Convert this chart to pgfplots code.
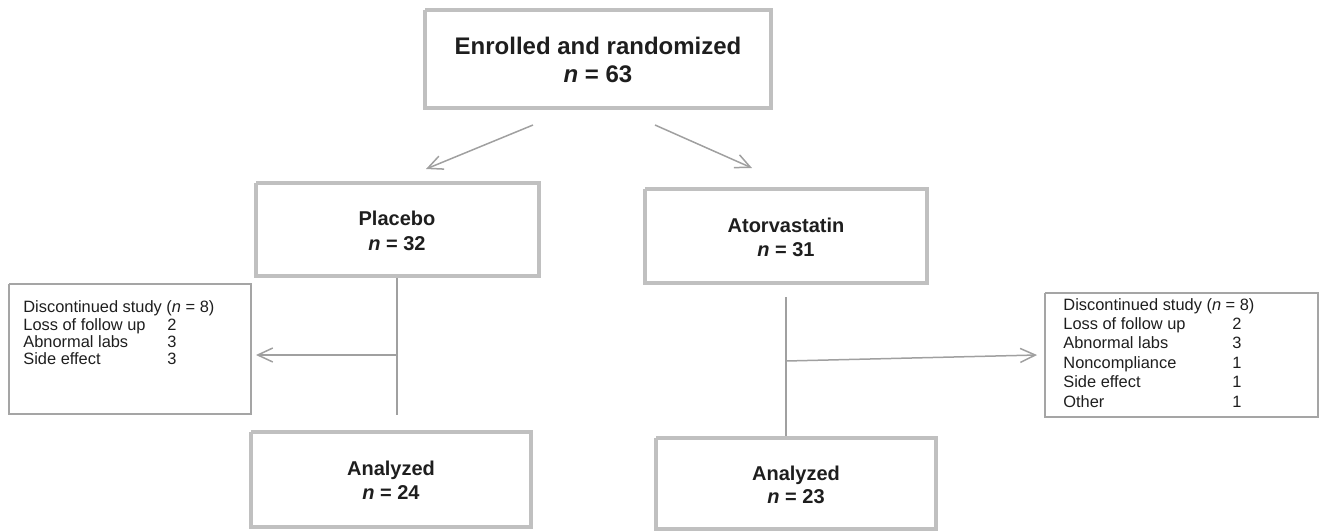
\documentclass[border=0pt]{standalone}
\usepackage{pgfplots}
\pgfplotsset{compat=1.18}
\usepackage{fontspec}
\setmainfont{Liberation Sans}
\usetikzlibrary{arrows.meta}
\definecolor{boxgray}{RGB}{192,192,192}
\definecolor{linegray}{RGB}{160,160,160}
\definecolor{thingray}{RGB}{165,165,165}
\definecolor{txt}{RGB}{30,30,30}
\begin{document}
\begin{tikzpicture}
\begin{axis}[width=663pt,height=265.5pt,scale only axis,
  xmin=0,xmax=1326,ymin=0,ymax=531,y dir=reverse,
  hide axis,clip=false,no markers]
% thick boxes
\addplot[boxgray,line width=2.2pt,line join=miter] coordinates {(425,10) (771,10) (771,108) (425,108) (425,10)};
\addplot[boxgray,line width=2.2pt,line join=miter] coordinates {(256,183) (539,183) (539,276) (256,276) (256,183)};
\addplot[boxgray,line width=2.2pt,line join=miter] coordinates {(645,189) (927,189) (927,283) (645,283) (645,189)};
\addplot[boxgray,line width=2.2pt,line join=miter] coordinates {(251,432) (531,432) (531,527) (251,527) (251,432)};
\addplot[boxgray,line width=2.2pt,line join=miter] coordinates {(656,438) (936,438) (936,529) (656,529) (656,438)};
% thin boxes
\addplot[thingray,line width=0.7pt] coordinates {(9,284) (251,284) (251,414) (9,414) (9,284)};
\addplot[thingray,line width=0.7pt] coordinates {(1045,293) (1318,293) (1318,417) (1045,417) (1045,293)};
% connectors
\addplot[linegray,line width=0.75pt,-{Straight Barb[length=7.5pt,width=7pt]}] coordinates {(533,125) (426,169)};
\addplot[linegray,line width=0.75pt,-{Straight Barb[length=7.5pt,width=7pt]}] coordinates {(655,125) (752,168)};
\addplot[linegray,line width=0.75pt] coordinates {(397,278) (397,415)};
\addplot[linegray,line width=0.75pt,-{Straight Barb[length=7.5pt,width=7pt]}] coordinates {(397,355) (256,355)};
\addplot[linegray,line width=0.75pt] coordinates {(786,297) (786,436)};
\addplot[linegray,line width=0.75pt,-{Straight Barb[length=7.5pt,width=7pt]}] coordinates {(786,361) (1037,355)};
% texts
\begin{scope}[every node/.style={text=txt,inner sep=0pt}]
\node[anchor=base,font=\fontsize{12}{14}\selectfont\bfseries] at (axis cs:598,54) {Enrolled and randomized};
\node[anchor=base,font=\fontsize{12}{14}\selectfont\bfseries] at (axis cs:598,82) {\textit{n} = 63};
\node[anchor=base,font=\fontsize{10}{12}\selectfont\bfseries] at (axis cs:397,225) {Placebo};
\node[anchor=base,font=\fontsize{10}{12}\selectfont\bfseries] at (axis cs:397,250) {\textit{n} = 32};
\node[anchor=base,font=\fontsize{10}{12}\selectfont\bfseries] at (axis cs:786,232) {Atorvastatin};
\node[anchor=base,font=\fontsize{10}{12}\selectfont\bfseries] at (axis cs:786,256) {\textit{n} = 31};
\node[anchor=base,font=\fontsize{10}{12}\selectfont\bfseries] at (axis cs:391,475) {Analyzed};
\node[anchor=base,font=\fontsize{10}{12}\selectfont\bfseries] at (axis cs:391,499) {\textit{n} = 24};
\node[anchor=base,font=\fontsize{10}{12}\selectfont\bfseries] at (axis cs:796,480) {Analyzed};
\node[anchor=base,font=\fontsize{10}{12}\selectfont\bfseries] at (axis cs:796,503) {\textit{n} = 23};
% left small box
\node[anchor=base west,font=\fontsize{8.2}{10}\selectfont] at (axis cs:23,312) {Discontinued study (\textit{n} = 8)};
\node[anchor=base west,font=\fontsize{8.2}{10}\selectfont] at (axis cs:23,330) {Loss of follow up};
\node[anchor=base west,font=\fontsize{8.2}{10}\selectfont] at (axis cs:23,347) {Abnormal labs};
\node[anchor=base west,font=\fontsize{8.2}{10}\selectfont] at (axis cs:23,364) {Side effect};
\node[anchor=base west,font=\fontsize{8.2}{10}\selectfont] at (axis cs:167,330) {2};
\node[anchor=base west,font=\fontsize{8.2}{10}\selectfont] at (axis cs:167,347) {3};
\node[anchor=base west,font=\fontsize{8.2}{10}\selectfont] at (axis cs:167,364) {3};
% right small box
\node[anchor=base west,font=\fontsize{8.2}{10}\selectfont] at (axis cs:1063,310) {Discontinued study (\textit{n} = 8)};
\node[anchor=base west,font=\fontsize{8.2}{10}\selectfont] at (axis cs:1063,329) {Loss of follow up};
\node[anchor=base west,font=\fontsize{8.2}{10}\selectfont] at (axis cs:1063,348) {Abnormal labs};
\node[anchor=base west,font=\fontsize{8.2}{10}\selectfont] at (axis cs:1063,368) {Noncompliance};
\node[anchor=base west,font=\fontsize{8.2}{10}\selectfont] at (axis cs:1063,387) {Side effect};
\node[anchor=base west,font=\fontsize{8.2}{10}\selectfont] at (axis cs:1063,407) {Other};
\node[anchor=base west,font=\fontsize{8.2}{10}\selectfont] at (axis cs:1232,329) {2};
\node[anchor=base west,font=\fontsize{8.2}{10}\selectfont] at (axis cs:1232,348) {3};
\node[anchor=base west,font=\fontsize{8.2}{10}\selectfont] at (axis cs:1232,368) {1};
\node[anchor=base west,font=\fontsize{8.2}{10}\selectfont] at (axis cs:1232,387) {1};
\node[anchor=base west,font=\fontsize{8.2}{10}\selectfont] at (axis cs:1232,407) {1};
\end{scope}
\end{axis}
\pgfresetboundingbox
\path[use as bounding box] (current axis.south west) rectangle (current axis.north east);
\end{tikzpicture}
\end{document}
